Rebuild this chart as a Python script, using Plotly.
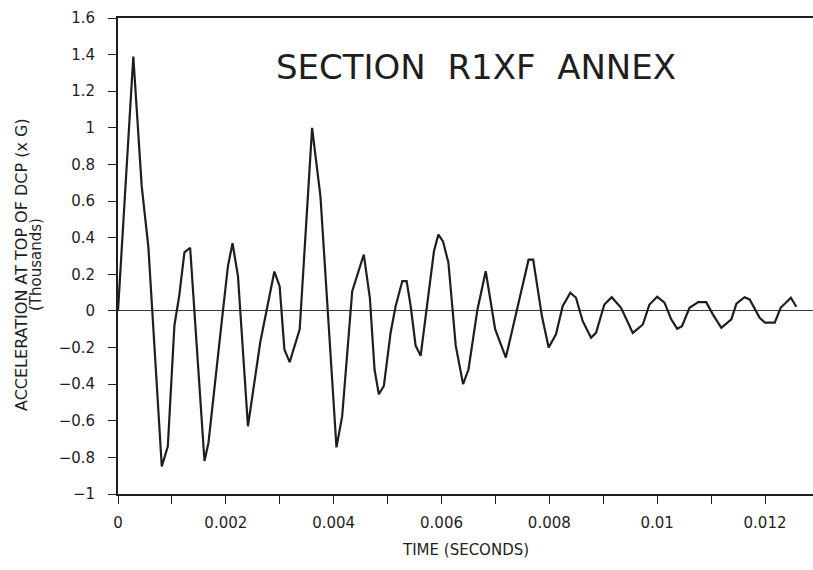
import numpy as np
import plotly.graph_objects as go

# Time (milliseconds) and acceleration (thousands of G)
time_ms = [0, 0.08, 0.284, 0.44, 0.563, 0.812, 0.924, 1.046, 1.134, 1.232, 1.338,
           1.604, 1.678, 1.927, 2.039, 2.124, 2.225, 2.41, 2.639, 2.9, 2.998,
           3.086, 3.184, 3.37, 3.6, 3.755, 3.816, 4.052, 4.158, 4.344, 4.559,
           4.671, 4.758, 4.838, 4.931, 5.056, 5.149, 5.273, 5.353, 5.428, 5.52,
           5.613, 5.86, 5.942, 6.028, 6.128, 6.264, 6.4, 6.5, 6.667, 6.82,
           6.995, 7.193, 7.472, 7.615, 7.7, 7.862, 7.987, 8.123, 8.247, 8.389,
           8.494, 8.619, 8.773, 8.866, 9.02, 9.157, 9.33, 9.548, 9.734, 9.857,
           10.0, 10.136, 10.26, 10.37, 10.46, 10.6, 10.76, 10.91, 11.035, 11.19,
           11.375, 11.47, 11.62, 11.716, 11.9, 12.0, 12.18, 12.29, 12.48, 12.58]
accel_k = [0, 0.40, 1.39, 0.68, 0.35, -0.85, -0.74, -0.08, 0.08, 0.32, 0.345,
           -0.82, -0.72, -0.05, 0.245, 0.37, 0.19, -0.63, -0.17, 0.215, 0.135,
           -0.21, -0.28, -0.10, 1.0, 0.625, 0.335, -0.745, -0.575, 0.108, 0.308,
           0.072, -0.32, -0.455, -0.41, -0.119, 0.026, 0.163, 0.163, 0.026, -0.19,
           -0.245, 0.326, 0.417, 0.38, 0.263, -0.19, -0.40, -0.32, 0.008, 0.217,
           -0.10, -0.255, 0.108, 0.28, 0.28, -0.028, -0.2, -0.128, 0.026, 0.10,
           0.072, -0.056, -0.146, -0.12, 0.035, 0.075, 0.017, -0.12, -0.074, 0.035,
           0.077, 0.045, -0.046, -0.097, -0.083, 0.017, 0.048, 0.048, -0.02, -0.092,
           -0.046, 0.04, 0.075, 0.063, -0.037, -0.064, -0.064, 0.017, 0.072, 0.023]

x_tickvals = [0, 0.002, 0.004, 0.006, 0.008, 0.01, 0.012]
x_ticktext = ["0", "0.002", "0.004", "0.006", "0.008", "0.01", "0.012"]
y_tickvals = [1.6, 1.4, 1.2, 1.0, 0.8, 0.6, 0.4, 0.2, 0, -0.2, -0.4, -0.6, -0.8, -1.0]
y_ticktext = ["1.6", "1.4", "1.2", "1", "0.8", "0.6", "0.4", "0.2", "0",
              "\u22120.2", "\u22120.4", "\u22120.6", "\u22120.8", "\u22121"]

time_s = np.array(time_ms) / 1000.0

FONT = "DejaVu Sans"
INK = "#1e1e1e"

fig = go.Figure()
fig.add_trace(go.Scatter(x=time_s, y=accel_k, mode="lines",
                         line=dict(color=INK, width=2.2), showlegend=False,
                         hoverinfo="skip"))

fig.update_layout(
    width=813, height=570,
    margin=dict(l=118, r=0, t=18, b=76),
    paper_bgcolor="white", plot_bgcolor="white",
    font=dict(family=FONT, color=INK, size=15),
    xaxis=dict(range=[0, 0.01289], showgrid=False, zeroline=False,
               showline=True, linecolor=INK, linewidth=1.6, mirror=True,
               tickvals=x_tickvals, ticktext=x_ticktext,
               ticks="outside", ticklen=8, tickwidth=1.3, tickcolor=INK,
               minor=dict(dtick=0.001, tick0=0, ticks="outside", ticklen=8,
                          tickwidth=1.3, tickcolor=INK, showgrid=False),
               ticklabelstandoff=6,
               tickfont=dict(family=FONT, size=15, color=INK)),
    yaxis=dict(range=[-1, 1.6], showgrid=False,
               zeroline=True, zerolinecolor="#3a3a3a", zerolinewidth=1.4,
               showline=True, linecolor=INK, linewidth=1.8,
               tickvals=y_tickvals, ticktext=y_ticktext,
               ticks="outside", ticklen=8, tickwidth=1.3, tickcolor=INK,
               ticklabelstandoff=10,
               tickfont=dict(family=FONT, size=15, color=INK)),
    annotations=[
        dict(text="SECTION\u00a0 R1XF\u00a0 ANNEX", xref="paper", yref="paper",
             x=(476 - 118) / 695, y=(494 - 67) / 476, xanchor="center",
             yanchor="middle", showarrow=False,
             font=dict(family=FONT, size=34, color=INK)),
        dict(text="ACCELERATION AT TOP OF DCP (x G)", xref="paper", yref="paper",
             x=(21 - 118) / 695, y=(494 - 265) / 476, xanchor="center",
             yanchor="middle", textangle=-90, showarrow=False,
             font=dict(family=FONT, size=16, color=INK)),
        dict(text="(Thousands)", xref="paper", yref="paper",
             x=(36 - 118) / 695, y=(494 - 265) / 476, xanchor="center",
             yanchor="middle", textangle=-90, showarrow=False,
             font=dict(family=FONT, size=15, color=INK)),
        dict(text="TIME (SECONDS)", xref="paper", yref="paper",
             x=(465 - 118) / 695, y=(494 - 550) / 476, xanchor="center",
             yanchor="middle", showarrow=False,
             font=dict(family=FONT, size=15, color=INK)),
    ],
)

fig.write_html("out.html")
